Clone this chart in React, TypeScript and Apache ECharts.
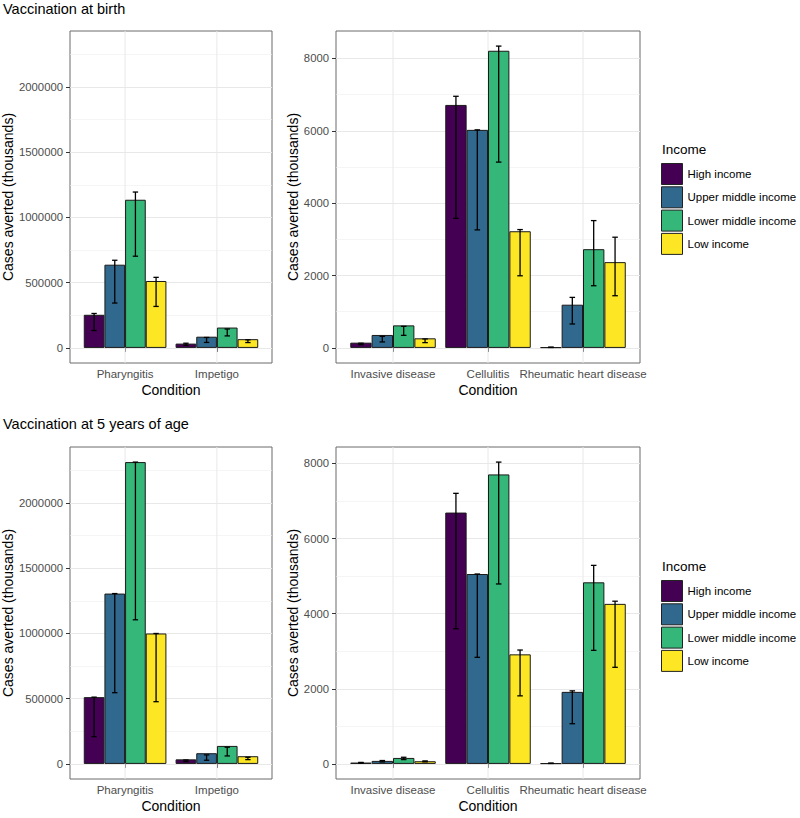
import React, { useEffect, useRef } from "react";
import * as echarts from "echarts";

// ---------- data ----------
const incomeGroups = ["High income", "Upper middle income", "Lower middle income", "Low income"];
const incomeColors = ["#440154", "#31688E", "#35B779", "#FDE725"];

const leftCategories = ["Pharyngitis", "Impetigo"];
const rightCategories = ["Invasive disease", "Cellulitis", "Rheumatic heart disease"];

// Vaccination at birth – Pharyngitis, Impetigo (per income group)
const birthLeftValues = [[254000, 33000], [638000, 86000], [1136000, 156000], [513000, 67000]];
const birthLeftLower = [[133000, 20000], [344000, 42000], [703000, 92000], [318000, 41000]];
const birthLeftUpper = [[264000, 36000], [672000, 80000], [1195000, 145000], [541000, 62000]];

// Vaccination at birth – Invasive disease, Cellulitis, Rheumatic heart disease
const birthRightValues = [[145, 6714, 18], [358, 6025, 1194], [623, 8211, 2728], [265, 3224, 2370]];
const birthRightLower = [[90, 3582, 12], [165, 3261, 661], [347, 5134, 1718], [146, 1993, 1442]];
const birthRightUpper = [[130, 6953, 22], [320, 6025, 1396], [595, 8340, 3518], [248, 3270, 3059]];

// Vaccination at 5 years of age – Pharyngitis, Impetigo
const age5LeftValues = [[512000, 35000], [1306000, 82000], [2314000, 138000], [1000000, 59000]];
const age5LeftLower = [[209000, 18000], [546000, 28000], [1105000, 61000], [477000, 33000]];
const age5LeftUpper = [[512000, 30000], [1306000, 69000], [2314000, 128000], [1000000, 51000]];

// Vaccination at 5 years of age – Invasive disease, Cellulitis, Rheumatic heart disease
const age5RightValues = [[35, 6692, 18], [80, 5056, 1918], [159, 7708, 4835], [71, 2917, 4261]];
const age5RightLower = [[20, 3598, 12], [53, 2838, 1070], [115, 4791, 3023], [55, 1812, 2572]];
const age5RightUpper = [[40, 7204, 22], [90, 5056, 1945], [177, 8036, 5286], [80, 3032, 4332]];

const leftTicks = { major: 500000, minor: 250000 };
const rightTicks = { major: 2000, minor: 1000 };

const titles = ["Vaccination at birth", "Vaccination at 5 years of age"];
const yTitle = "Cases averted (thousands)";
const xTitle = "Condition";
const legendTitle = "Income";

const FONT = "'Liberation Sans', Arial, Helvetica, sans-serif";

function maxOf(...arrs: number[][][]) {
  let m = 0;
  arrs.forEach((a) => a.forEach((r) => r.forEach((v) => (m = Math.max(m, v)))));
  return m;
}

export default function App() {
  const ref = useRef<HTMLDivElement>(null);

  useEffect(() => {
    const chart = echarts.init(ref.current!, null, { renderer: "svg" });

    const leftM = maxOf(birthLeftValues, birthLeftUpper, age5LeftValues, age5LeftUpper);
    const panels = [
      { x0: 70, x1: 272, y0: 31, y1: 363, cats: leftCategories, values: birthLeftValues, lower: birthLeftLower, upper: birthLeftUpper, M: leftM, ticks: leftTicks, nameGap: 55 },
      { x0: 336, x1: 640, y0: 31, y1: 363, cats: rightCategories, values: birthRightValues, lower: birthRightLower, upper: birthRightUpper, M: maxOf(birthRightValues, birthRightUpper), ticks: rightTicks, nameGap: 36 },
      { x0: 70, x1: 272, y0: 447, y1: 779, cats: leftCategories, values: age5LeftValues, lower: age5LeftLower, upper: age5LeftUpper, M: leftM, ticks: leftTicks, nameGap: 55 },
      { x0: 336, x1: 640, y0: 447, y1: 779, cats: rightCategories, values: age5RightValues, lower: age5RightLower, upper: age5RightUpper, M: maxOf(age5RightValues, age5RightUpper), ticks: rightTicks, nameGap: 36 },
    ];

    const grids: any[] = [];
    const xAxes: any[] = [];
    const yAxes: any[] = [];
    const series: any[] = [];

    const hiddenAxisParts = {
      axisLine: { show: false },
      axisTick: { show: false },
      axisLabel: { show: false },
      splitLine: { show: false },
    };

    panels.forEach((p) => {
      const lo = -0.05 * p.M;
      const hi = 1.05 * p.M;
      const H = p.y1 - p.y0;
      const W = p.x1 - p.x0;
      const ypx = (v: number) => p.y0 + ((hi - v) / (hi - lo)) * H;
      const n = p.cats.length;
      const unit = W / (n + 0.2);
      const base = grids.length;

      // panel frame + axis titles
      grids.push({ left: p.x0, top: p.y0, width: W, height: H, show: true, borderColor: "#6a6a6a", borderWidth: 1, backgroundColor: "transparent", outerBoundsMode: "none" });
      xAxes.push({
        gridIndex: base, type: "value", min: 0, max: 1, ...hiddenAxisParts,
        name: xTitle, nameLocation: "middle", nameGap: 20,
        nameTextStyle: { fontSize: 14, color: "#000", fontFamily: FONT },
      });
      yAxes.push({
        gridIndex: base, type: "value", min: 0, max: 1, ...hiddenAxisParts,
        name: yTitle, nameLocation: "middle", nameGap: p.nameGap,
        nameTextStyle: { fontSize: 14, color: "#000", fontFamily: FONT },
      });

      // minor gridlines
      const minorTop = Math.floor(hi / p.ticks.minor) * p.ticks.minor;
      grids.push({ left: p.x0, width: W, top: ypx(minorTop), height: ypx(0) - ypx(minorTop), outerBoundsMode: "none" });
      xAxes.push({ gridIndex: base + 1, type: "value", min: 0, max: 1, show: false });
      yAxes.push({
        gridIndex: base + 1, type: "value", min: 0, max: minorTop, interval: p.ticks.minor,
        axisLine: { show: false }, axisTick: { show: false }, axisLabel: { show: false },
        splitLine: { show: true, lineStyle: { color: "#efefef", width: 0.6 } },
      });

      // major gridlines, tick labels
      const majorTop = Math.floor(hi / p.ticks.major) * p.ticks.major;
      grids.push({ left: p.x0, width: W, top: ypx(majorTop), height: ypx(0) - ypx(majorTop), outerBoundsMode: "none" });
      xAxes.push({ gridIndex: base + 2, type: "value", min: 0, max: 1, show: false });
      yAxes.push({
        gridIndex: base + 2, type: "value", min: 0, max: majorTop, interval: p.ticks.major,
        axisLine: { show: false },
        axisTick: { show: true, length: 4, lineStyle: { color: "#333", width: 1 } },
        axisLabel: { show: true, margin: 7, fontSize: 11.3, color: "#4d4d4d", fontFamily: FONT, formatter: (v: number) => String(v) },
        splitLine: { show: true, lineStyle: { color: "#e8e8e8", width: 1 } },
      });

      // bars
      const gi = base + 3;
      grids.push({ left: p.x0 + 0.1 * unit, width: n * unit, top: p.y0, height: H, outerBoundsMode: "none" });
      xAxes.push({
        gridIndex: gi, type: "category", data: p.cats,
        axisLine: { show: false },
        axisTick: { show: true, alignWithLabel: true, length: 4, lineStyle: { color: "#333", width: 1 } },
        axisLabel: { show: true, interval: 0, margin: 5, fontSize: 11.5, color: "#4d4d4d", fontFamily: FONT, hideOverlap: false },
        splitLine: { show: false },
      });
      yAxes.push({ gridIndex: gi, type: "value", min: lo, max: hi, show: false });

      // vertical gridlines at categories
      series.push({
        type: "custom", xAxisIndex: gi, yAxisIndex: gi, z: 1, silent: true,
        data: p.cats.map((_, i) => [i, 0]),
        encode: { x: 0, y: 1 },
        renderItem: (params: any, api: any) => {
          const x = api.coord([api.value(0), 0])[0];
          const cs = params.coordSys;
          return {
            type: "line",
            shape: { x1: x, y1: cs.y, x2: x, y2: cs.y + cs.height },
            style: { stroke: "#e8e8e8", lineWidth: 1 },
          };
        },
      });

      incomeGroups.forEach((name, k) => {
        series.push({
          type: "bar", name, xAxisIndex: gi, yAxisIndex: gi, z: 2, silent: true,
          data: p.values[k],
          barGap: "0%", barCategoryGap: "10%",
          itemStyle: { color: incomeColors[k], borderColor: "#1a1a1a", borderWidth: 1 },
          emphasis: { disabled: true },
        });
      });

      // error bars
      const errData: number[][] = [];
      incomeGroups.forEach((_, k) => {
        p.cats.forEach((_, i) => errData.push([i, p.lower[k][i], p.upper[k][i], k]));
      });
      series.push({
        type: "custom", xAxisIndex: gi, yAxisIndex: gi, z: 3, silent: true,
        data: errData,
        encode: { x: 0, y: [1, 2] },
        renderItem: (params: any, api: any) => {
          const i = api.value(0);
          const k = api.value(3);
          const c = api.coord([i, 0]);
          const band = api.size([1, 0])[0];
          const bw = (band * 0.9) / 4;
          const x = c[0] + (k - 1.5) * bw;
          const yl = api.coord([i, api.value(1)])[1];
          const yu = api.coord([i, api.value(2)])[1];
          const hw = bw * 0.13;
          const st = { stroke: "#000", lineWidth: 1.3 };
          return {
            type: "group",
            children: [
              { type: "line", shape: { x1: x, y1: yl, x2: x, y2: yu }, style: st },
              { type: "line", shape: { x1: x - hw, y1: yl, x2: x + hw, y2: yl }, style: st },
              { type: "line", shape: { x1: x - hw, y1: yu, x2: x + hw, y2: yu }, style: st },
            ],
          };
        },
      });
    });

    const legendBase = {
      data: incomeGroups, orient: "vertical", left: 661, padding: 0,
      itemWidth: 21, itemHeight: 21, itemGap: 1.3, icon: "rect",
      itemStyle: { borderColor: "#222", borderWidth: 1 },
      textStyle: { fontSize: 11.5, color: "#000", fontFamily: FONT },
      selectedMode: false,
    };

    chart.setOption({
      animation: false,
      grid: grids,
      xAxis: xAxes,
      yAxis: yAxes,
      series,
      legend: [
        { ...legendBase, top: 163 },
        { ...legendBase, top: 580 },
      ],
      graphic: [
        { type: "text", x: 3, y: 8.5, style: { text: titles[0], fontSize: 14.5, fill: "#000", fontFamily: FONT, verticalAlign: "middle" } },
        { type: "text", x: 3, y: 424, style: { text: titles[1], fontSize: 14.5, fill: "#000", fontFamily: FONT, verticalAlign: "middle" } },
        { type: "text", x: 662, y: 149, style: { text: legendTitle, fontSize: 13.5, fill: "#000", fontFamily: FONT, verticalAlign: "middle" } },
        { type: "text", x: 662, y: 566, style: { text: legendTitle, fontSize: 13.5, fill: "#000", fontFamily: FONT, verticalAlign: "middle" } },
      ],
    });

    return () => chart.dispose();
  }, []);

  return <div ref={ref} style={{ position: "absolute", left: 0, top: 0, width: 800, height: 818, background: "#fff" }} />;
}
